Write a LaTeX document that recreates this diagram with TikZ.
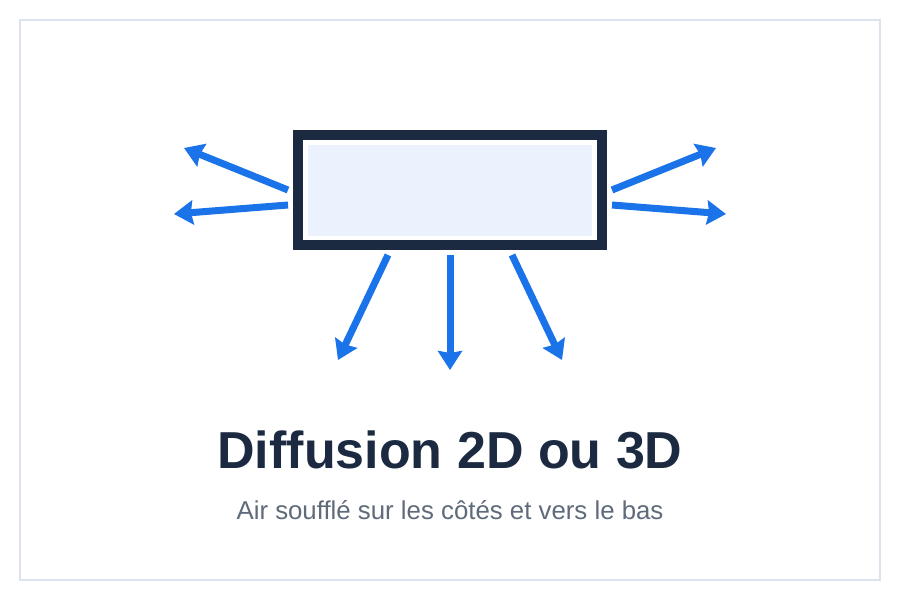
\documentclass[tikz,border=0pt]{standalone}
\usepackage{fontspec}
\setmainfont{Liberation Sans}
\usetikzlibrary{arrows.meta}
\definecolor{navy}{HTML}{1B2A41}
\definecolor{flow}{HTML}{1A73E8}
\definecolor{panel}{HTML}{EBF2FD}
\definecolor{frame}{HTML}{DCE3EE}
\definecolor{subgray}{HTML}{5F6B7A}
\tikzset{
  airflow/.style={draw=flow, line width=7pt, -{Triangle[length=19pt,width=24pt,inset=2pt]}},
  unit/.style={draw=navy, line width=10pt, fill=white, minimum width=304pt, minimum height=110pt, inner sep=0pt},
  titletext/.style={text=navy, font=\fontsize{52}{60}\selectfont\bfseries, anchor=base},
  subtext/.style={text=subgray, font=\fontsize{25.8}{30}\selectfont, anchor=base},
}
\begin{document}
\begin{tikzpicture}[x=1pt,y=-1pt]
\useasboundingbox (0,0) rectangle (900,600);
\fill[white] (0,0) rectangle (900,600);
\draw[frame, line width=2pt] (20,20) rectangle (880,580);
% unit
\node[unit] (box) at (450,190) {};
\fill[panel] (308,145) rectangle (592,236);
% start points
\coordinate (l1s) at (288,190);
\coordinate (l2s) at (288,205);
\coordinate (r1s) at (612,190);
\coordinate (r2s) at (612,205);
\coordinate (b1s) at (388,255);
\coordinate (b2s) at (450,255);
\coordinate (b3s) at (512,255);
% tips
\coordinate (l1e) at (184,148);
\coordinate (l2e) at (174,214);
\coordinate (r1e) at (716,148);
\coordinate (r2e) at (726,214);
\coordinate (b1e) at (338,360);
\coordinate (b2e) at (450,370);
\coordinate (b3e) at (562,360);
\foreach \a in {l1,l2,r1,r2,b1,b2,b3}{
  \draw[airflow] (\a s) -- (\a e);
}
\node[titletext] (title) at (450,468) {Diffusion 2D ou 3D};
\node[subtext] (sub) at (450,519) {Air soufflé sur les côtés et vers le bas};
\end{tikzpicture}
\end{document}
